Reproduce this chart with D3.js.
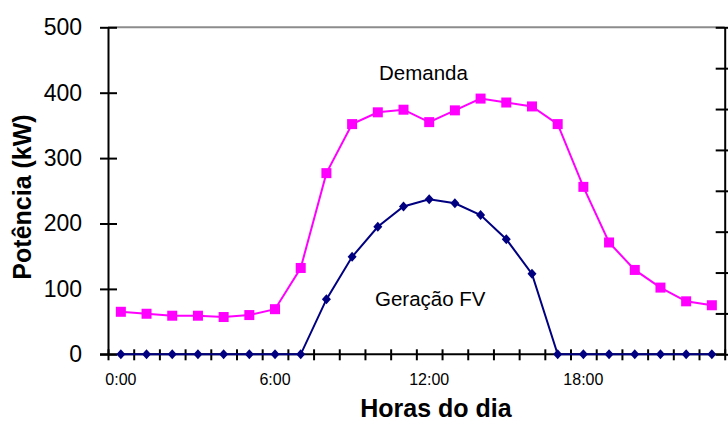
<!DOCTYPE html>
<html>
<head>
<meta charset="utf-8">
<title>Demanda x Geração FV</title>
<script src="https://d3js.org/d3.v7.min.js"></script>
<style>
  body { margin: 0; background: #fff; }
  svg text { font-family: "Liberation Sans", Arial, sans-serif; fill: #000; }
</style>
</head>
<body>
<script>
// hourly values
var hours = ["0:00", "1:00", "2:00", "3:00", "4:00", "5:00", "6:00", "7:00",
             "8:00", "9:00", "10:00", "11:00", "12:00", "13:00", "14:00", "15:00",
             "16:00", "17:00", "18:00", "19:00", "20:00", "21:00", "22:00", "23:00"];
var demanda = [65, 62, 59, 59, 57, 60, 69, 132, 277, 352, 370, 374,
               355, 373, 391, 385, 379, 352, 256, 171, 129, 102, 81, 75];
var geracaoFV = [0, 0, 0, 0, 0, 0, 0, 0, 84, 149, 195, 226,
                 237, 231, 213, 176, 123, 0, 0, 0, 0, 0, 0, 0];
var yTicks = [0, 100, 200, 300, 400, 500];
var hourLabels = ["0:00", "6:00", "12:00", "18:00"];

var width = 728, height = 421;
var pLeft = 108, pRight = 724.7, pTop = 27.3, pBottom = 354.3;

var svg = d3.select("body").append("svg")
    .attr("width", width)
    .attr("height", height);

var x = d3.scaleBand().domain(hours).range([pLeft, pRight]).padding(0);
// boundaries between hours, for the tick marks
var xEdge = d3.scaleLinear().domain([0, hours.length]).range([pLeft, pRight]);
var y = d3.scaleLinear().domain([0, 500]).range([pBottom, pTop]);
var y2 = d3.scaleLinear().domain([0, 800]).range([pBottom, pTop]);

// top border
svg.append("line")
    .attr("x1", pLeft).attr("x2", pRight)
    .attr("y1", pTop).attr("y2", pTop)
    .attr("stroke", "#8c8c8c").attr("stroke-width", 2);

// right axis (no labels)
var gR = svg.append("g").attr("transform", "translate(" + pRight + ",0)")
    .call(d3.axisRight(y2).ticks(8).tickFormat("").tickSizeOuter(0));
gR.selectAll(".tick line").attr("x1", -9).attr("x2", 9);

// bottom tick marks at hour boundaries
var gB = svg.append("g").attr("transform", "translate(0," + pBottom + ")")
    .call(d3.axisBottom(xEdge).ticks(24).tickFormat("").tickSizeOuter(0));
gB.select(".domain").remove();
gB.selectAll(".tick line").attr("y1", -5).attr("y2", 6);

// bottom labels
var gBL = svg.append("g").attr("transform", "translate(0," + pBottom + ")")
    .call(d3.axisBottom(x).tickValues(hourLabels).tickSize(0).tickPadding(19));
gBL.select(".domain").remove();
gBL.selectAll("text").attr("font-size", "16px").attr("font-family", "Liberation Sans, Arial, sans-serif");

// left axis
var gL = svg.append("g").attr("transform", "translate(" + pLeft + ",0)")
    .call(d3.axisLeft(y).tickValues(yTicks).tickSizeOuter(0).tickPadding(20));
gL.selectAll(".tick line").attr("x1", 9).attr("x2", -8);
gL.selectAll("text").attr("font-size", "23px").attr("font-family", "Liberation Sans, Arial, sans-serif");

svg.selectAll(".domain").attr("stroke-width", 2).attr("stroke", "#000");
svg.selectAll(".tick line").attr("stroke-width", 2).attr("stroke", "#000");

// x axis line
svg.append("line")
    .attr("x1", pLeft - 8).attr("x2", pRight)
    .attr("y1", pBottom).attr("y2", pBottom)
    .attr("stroke", "#000").attr("stroke-width", 2);

var line = function(vals) {
  return d3.line()
    .x(function(d, i) { return x(hours[i]) + x.bandwidth() / 2; })
    .y(function(d) { return y(d); })(vals);
};

// demanda
svg.append("path")
    .attr("d", line(demanda))
    .attr("fill", "none")
    .attr("stroke", "#ff00ff")
    .attr("stroke-width", 2);
svg.selectAll("rect.dem")
    .data(demanda)
    .enter().append("rect")
    .attr("class", "dem")
    .attr("x", function(d, i) { return x(hours[i]) + x.bandwidth() / 2 - 5; })
    .attr("y", function(d) { return y(d) - 5; })
    .attr("width", 10).attr("height", 10)
    .attr("fill", "#ff00ff");

// geração FV
svg.append("path")
    .attr("d", line(geracaoFV))
    .attr("fill", "none")
    .attr("stroke", "#000080")
    .attr("stroke-width", 2);
svg.selectAll("path.fv")
    .data(geracaoFV)
    .enter().append("path")
    .attr("class", "fv")
    .attr("transform", function(d, i) {
      return "translate(" + (x(hours[i]) + x.bandwidth() / 2) + "," + y(d) + ")";
    })
    .attr("d", "M0,-5L4.5,0L0,5L-4.5,0Z")
    .attr("fill", "#000080");

// series labels
svg.append("text")
    .attr("x", 379).attr("y", 79.5)
    .attr("font-size", "20.5px")
    .text("Demanda");
svg.append("text")
    .attr("x", 375).attr("y", 306)
    .attr("font-size", "20.5px")
    .text("Geração FV");

// axis titles
svg.append("text")
    .attr("x", 436).attr("y", 417)
    .attr("text-anchor", "middle")
    .attr("font-size", "25px")
    .attr("font-weight", "bold")
    .text("Horas do dia");
svg.append("text")
    .attr("transform", "translate(31,197) rotate(-90)")
    .attr("text-anchor", "middle")
    .attr("font-size", "25px")
    .attr("font-weight", "bold")
    .text("Potência (kW)");
</script>
</body>
</html>
